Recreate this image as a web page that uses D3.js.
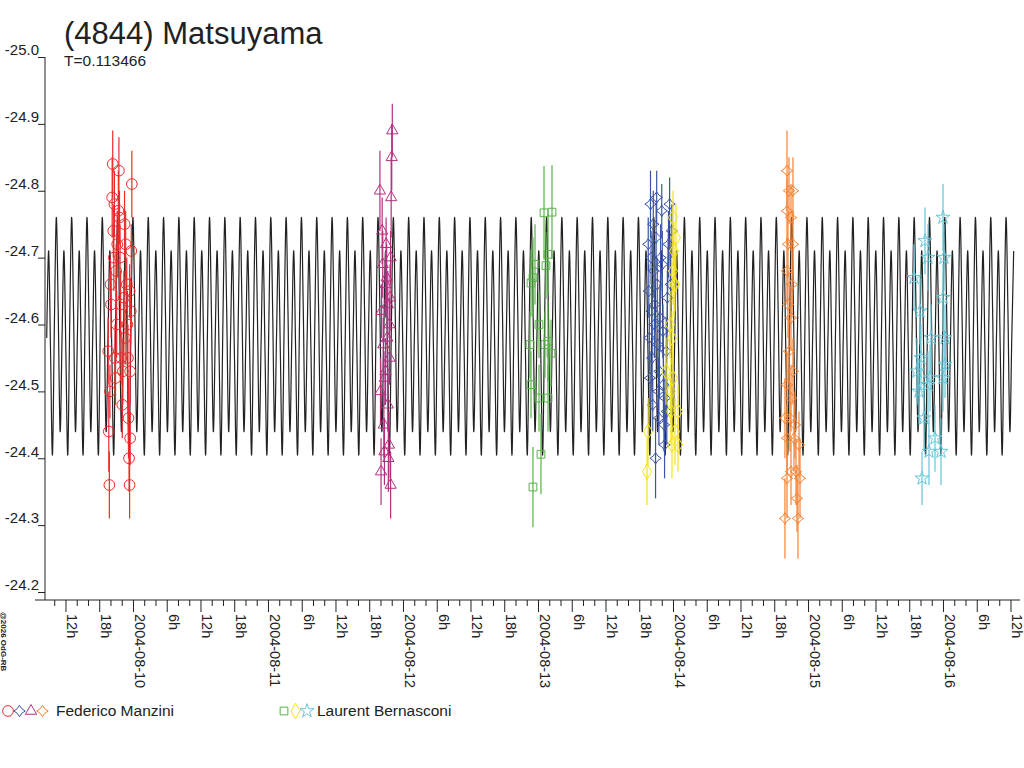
<!DOCTYPE html>
<html>
<head>
<meta charset="utf-8">
<script src="https://cdn.jsdelivr.net/npm/d3@7"></script>
<style>
  body { margin: 0; background: #fff; }
  text { font-family: "Liberation Sans", Arial, sans-serif; fill: #222; }
</style>
</head>
<body>
<div id="my_dataviz"></div>
<script>
// dimensions
var W = 1024, H = 768;
var svg = d3.select("#my_dataviz").append("svg")
  .attr("width", W).attr("height", H);

// hours relative to 2004-08-10 00:00 UT
var x = d3.scaleLinear().domain([-15.64, 156.8]).range([45, 1015]);
var y = d3.scaleLinear().domain([-25.0, -24.2]).range([57, 592]);

// one rotation of the model lightcurve (phase, mag), repeated over the plot
var period = 0.113466 * 24, epoch = 13.6;
var shape = [[0, -24.76], [0.125, -24.62], [0.25, -24.44], [0.375, -24.58],
             [0.5, -24.71], [0.625, -24.56], [0.75, -24.405], [0.875, -24.60]];

// observations: [hours, mag, err]
var series = [
  {name: "Manzini", color: "#ee2a2a", sym: "circle", pts: [
    [-4.4,-24.56,0.05],[-4.3,-24.44,0.06],[-4.2,-24.36,0.05],[-4.1,-24.50,0.04],[-4.0,-24.66,0.04],
    [-3.9,-24.63,0.05],[-3.7,-24.79,0.06],[-3.6,-24.84,0.05],[-3.5,-24.74,0.04],[-3.4,-24.70,0.05],
    [-3.2,-24.55,0.05],[-3.1,-24.52,0.04],[-2.9,-24.60,0.05],[-2.8,-24.72,0.05],[-2.6,-24.77,0.06],
    [-2.5,-24.83,0.05],[-2.4,-24.76,0.04],[-2.2,-24.63,0.05],[-2.1,-24.55,0.04],[-1.9,-24.48,0.05],
    [-1.8,-24.53,0.05],[-1.6,-24.64,0.04],[-1.5,-24.75,0.05],[-1.3,-24.72,0.05],[-1.1,-24.66,0.04],
    [-0.9,-24.55,0.05],[-0.8,-24.46,0.06],[-0.7,-24.40,0.05],[-0.6,-24.36,0.05],[-0.5,-24.43,0.04],
    [-0.4,-24.62,0.05],[-0.3,-24.71,0.04],[-0.2,-24.81,0.05],[-0.6,-24.65,0.04],[-0.5,-24.53,0.05],
    [-3.0,-24.68,0.04],[-2.3,-24.70,0.05],[-1.0,-24.60,0.05],[-3.3,-24.78,0.05],[-1.4,-24.58,0.04]]},
  {name: "Manzini", color: "#b33080", sym: "triangle", pts: [
    [43.9,-24.80,0.06],[44.0,-24.50,0.05],[44.1,-24.38,0.05],[44.2,-24.62,0.04],[44.3,-24.74,0.05],
    [44.4,-24.69,0.05],[44.5,-24.57,0.04],[44.6,-24.45,0.05],[44.7,-24.41,0.05],[44.8,-24.52,0.04],
    [44.9,-24.66,0.05],[45.0,-24.72,0.04],[45.1,-24.67,0.05],[45.2,-24.58,0.04],[45.3,-24.48,0.04],
    [45.4,-24.40,0.05],[45.5,-24.42,0.05],[45.6,-24.55,0.04],[45.7,-24.64,0.05],[45.8,-24.70,0.04],
    [45.9,-24.79,0.06],[46.0,-24.85,0.05],[46.1,-24.89,0.04],[45.8,-24.36,0.05],[45.6,-24.60,0.04],
    [45.3,-24.63,0.05],[44.9,-24.53,0.05]]},
  {name: "Bernasconi", color: "#55b345", sym: "square", pts: [
    [73.07,-24.767,0.07],[74.49,-24.768,0.07],[73.78,-24.705,0.06],[71.47,-24.69,0.06],[73.42,-24.688,0.05],
    [70.76,-24.662,0.05],[71.11,-24.67,0.06],[70.58,-24.57,0.05],[72.18,-24.60,0.05],[73.24,-24.57,0.05],
    [73.78,-24.575,0.06],[74.31,-24.557,0.05],[72.18,-24.49,0.05],[73.78,-24.49,0.05],[72.53,-24.406,0.06],
    [71.11,-24.357,0.06],[70.76,-24.51,0.05]]},
  {name: "Manzini", color: "#3a55a5", sym: "star4", pts: [
    [91.6,-24.72,0.04],[91.7,-24.65,0.04],[91.8,-24.58,0.05],[91.9,-24.52,0.04],[92.0,-24.78,0.05],
    [92.1,-24.70,0.04],[92.2,-24.62,0.04],[92.3,-24.55,0.05],[92.4,-24.48,0.04],[92.5,-24.75,0.05],
    [92.6,-24.68,0.04],[92.7,-24.60,0.05],[92.8,-24.63,0.04],[93.0,-24.73,0.05],[93.1,-24.79,0.04],
    [93.2,-24.66,0.04],[93.3,-24.57,0.05],[93.4,-24.50,0.05],[93.5,-24.46,0.04],[93.6,-24.53,0.04],
    [93.7,-24.61,0.05],[93.8,-24.70,0.05],[94.0,-24.77,0.04],[94.1,-24.69,0.05],[94.2,-24.59,0.04],
    [94.3,-24.51,0.05],[94.4,-24.45,0.04],[94.5,-24.42,0.05],[94.6,-24.49,0.04],[94.8,-24.56,0.05],
    [95.0,-24.64,0.04],[95.2,-24.72,0.05],[95.4,-24.78,0.04],[95.6,-24.66,0.05],[95.8,-24.74,0.04],
    [92.9,-24.40,0.06],[94.9,-24.47,0.05]]},
  {name: "Bernasconi", color: "#f2e21c", sym: "diamond", pts: [
    [96.0,-24.76,0.04],[96.53,-24.73,0.05],[96.18,-24.71,0.04],[96.0,-24.68,0.05],[96.36,-24.66,0.04],
    [96.18,-24.66,0.05],[95.47,-24.60,0.05],[95.82,-24.58,0.04],[96.0,-24.52,0.05],[95.64,-24.50,0.05],
    [96.89,-24.47,0.04],[91.56,-24.44,0.05],[96.89,-24.42,0.04],[95.82,-24.42,0.05],[91.38,-24.38,0.05],
    [95.64,-24.47,0.05],[94.76,-24.53,0.05],[96.36,-24.44,0.05]]},
  {name: "Manzini", color: "#f58232", sym: "star4", pts: [
    [116.27,-24.83,0.06],[116.62,-24.80,0.05],[117.33,-24.80,0.05],[116.27,-24.77,0.05],[116.98,-24.76,0.05],
    [116.44,-24.72,0.05],[117.33,-24.72,0.05],[116.27,-24.68,0.05],[117.16,-24.66,0.05],[116.44,-24.63,0.05],
    [116.98,-24.61,0.05],[116.62,-24.56,0.05],[117.33,-24.53,0.05],[116.27,-24.51,0.05],[116.98,-24.49,0.05],
    [115.9,-24.46,0.06],[116.8,-24.46,0.05],[117.69,-24.45,0.05],[116.27,-24.43,0.05],[117.51,-24.43,0.05],
    [118.4,-24.42,0.05],[116.27,-24.37,0.06],[117.87,-24.38,0.05],[118.58,-24.37,0.06],[115.9,-24.31,0.06],
    [118.22,-24.31,0.06],[116.98,-24.38,0.05],[118.04,-24.34,0.05]]},
  {name: "Bernasconi", color: "#62c6d8", sym: "star", pts: [
    [140.8,-24.725,0.05],[141.33,-24.70,0.05],[138.84,-24.67,0.05],[144.18,-24.70,0.05],[139.91,-24.62,0.05],
    [144.0,-24.64,0.05],[139.38,-24.53,0.05],[141.69,-24.52,0.05],[144.0,-24.52,0.05],[140.09,-24.55,0.05],
    [141.87,-24.58,0.05],[144.36,-24.58,0.05],[143.64,-24.41,0.05],[141.33,-24.51,0.05],[144.36,-24.54,0.05],
    [139.73,-24.50,0.05],[142.58,-24.43,0.05],[141.51,-24.41,0.05],[140.27,-24.37,0.04],[144.0,-24.76,0.05],
    [140.62,-24.46,0.05]]}
];

var star4 = { draw: function(ctx, size) {
  var r = Math.sqrt(size) * 0.6, k = r * 0.4;
  ctx.moveTo(0, -r); ctx.lineTo(k, -k); ctx.lineTo(r, 0); ctx.lineTo(k, k);
  ctx.lineTo(0, r); ctx.lineTo(-k, k); ctx.lineTo(-r, 0); ctx.lineTo(-k, -k); ctx.closePath();
}};
var symTypes = {circle: d3.symbolCircle, triangle: d3.symbolTriangle, square: d3.symbolSquare,
                diamond: d3.symbolDiamond, star: d3.symbolStar, star4: star4};
var symSize = {circle: 90, triangle: 55, square: 60, diamond: 70, star: 60, star4: 90};

// model curve
var curvePts = [];
var k0 = Math.floor((x.domain()[0] - epoch) / period) - 1;
var k1 = Math.ceil((x.domain()[1] - epoch) / period) + 1;
for (var k = k0; k <= k1; k++) {
  shape.forEach(function(s) {
    var t = epoch + (k + s[0]) * period;
    if (t >= x.domain()[0] && t <= x.domain()[1]) curvePts.push([t, s[1]]);
  });
}
svg.append("path")
  .datum(curvePts)
  .attr("fill", "none").attr("stroke", "#222").attr("stroke-width", 1.2)
  .attr("d", d3.line().x(function(d) { return x(d[0]); }).y(function(d) { return y(d[1]); })
    .curve(d3.curveCardinal));

// observations with error bars
series.forEach(function(s) {
  var g = svg.append("g");
  g.selectAll("line").data(s.pts).enter().append("line")
    .attr("x1", function(d) { return x(d[0]); }).attr("x2", function(d) { return x(d[0]); })
    .attr("y1", function(d) { return y(d[1] - d[2]); }).attr("y2", function(d) { return y(d[1] + d[2]); })
    .attr("stroke", s.color).attr("stroke-width", 1.2);
  g.selectAll("path").data(s.pts).enter().append("path")
    .attr("transform", function(d) { return "translate(" + x(d[0]) + "," + y(d[1]) + ")"; })
    .attr("d", d3.symbol().type(symTypes[s.sym]).size(symSize[s.sym]))
    .attr("fill", "none").attr("stroke", s.color).attr("stroke-width", 1);
});

// Y axis
var yAxis = svg.append("g").attr("transform", "translate(45,0)")
  .call(d3.axisLeft(y).tickValues(d3.range(-25.0, -24.15, 0.1)).tickFormat(d3.format(".1f")).tickSize(7));
yAxis.select(".domain").attr("d", "M0,57V600").attr("stroke", "#222");
yAxis.selectAll("text").attr("x", -6).attr("dy", "-0.15em").style("font-size", "15px")
  .attr("text-anchor", "end").text(function(d) { return d3.format(".1f")(d).replace("−", "-"); });
yAxis.selectAll(".tick line").attr("x1", 0).attr("x2", -7).attr("stroke", "#222");

// X axis
var xAxis = svg.append("g").attr("transform", "translate(0,600)")
  .call(d3.axisBottom(x).tickValues(d3.range(-14, 157, 2)).tickSize(6).tickFormat(""));
xAxis.select(".domain").attr("d", "M35,0H1020").attr("stroke", "#222");
xAxis.selectAll(".tick line").attr("stroke", "#222")
  .attr("y2", function(d) { return d % 6 === 0 ? 12 : 6; });
var days = ["2004-08-09", "2004-08-10", "2004-08-11", "2004-08-12", "2004-08-13", "2004-08-14", "2004-08-15", "2004-08-16", "2004-08-17"];
d3.range(-12, 157, 6).forEach(function(h) {
  var hh = ((h % 24) + 24) % 24;
  var label = hh === 0 ? days[Math.floor(h / 24) + 1] : hh + "h";
  svg.append("text")
    .attr("transform", "translate(" + (x(h) + 2) + ",614) rotate(90)")
    .style("font-size", "14.5px")
    .text(label);
});

// title
svg.append("text").attr("x", 64).attr("y", 44).style("font-size", "31px").text("(4844) Matsuyama");
svg.append("text").attr("x", 64).attr("y", 66).style("font-size", "15.5px").text("T=0.113466");
svg.append("text").attr("transform", "translate(1,612) rotate(90)")
  .style("font-size", "8px").style("font-weight", "bold").text("@2026 OdG-RB");

// legend
var legend = [
  {x: 8, syms: [["circle", "#ee2a2a"], ["star4", "#3a55a5"], ["triangle", "#b33080"], ["star4", "#f58232"]], label: "Federico Manzini", tx: 56},
  {x: 284, syms: [["square", "#55b345"], ["diamond", "#f2e21c"], ["star", "#62c6d8"]], label: "Laurent Bernasconi", tx: 317}
];
legend.forEach(function(l) {
  l.syms.forEach(function(s, i) {
    svg.append("path")
      .attr("transform", "translate(" + (l.x + i * 11.5) + ",711)")
      .attr("d", d3.symbol().type(symTypes[s[0]]).size(symSize[s[0]]))
      .attr("fill", "none").attr("stroke", s[1]);
  });
  svg.append("text").attr("x", l.tx).attr("y", 716).style("font-size", "15.5px").text(l.label);
});
</script>
</body>
</html>
